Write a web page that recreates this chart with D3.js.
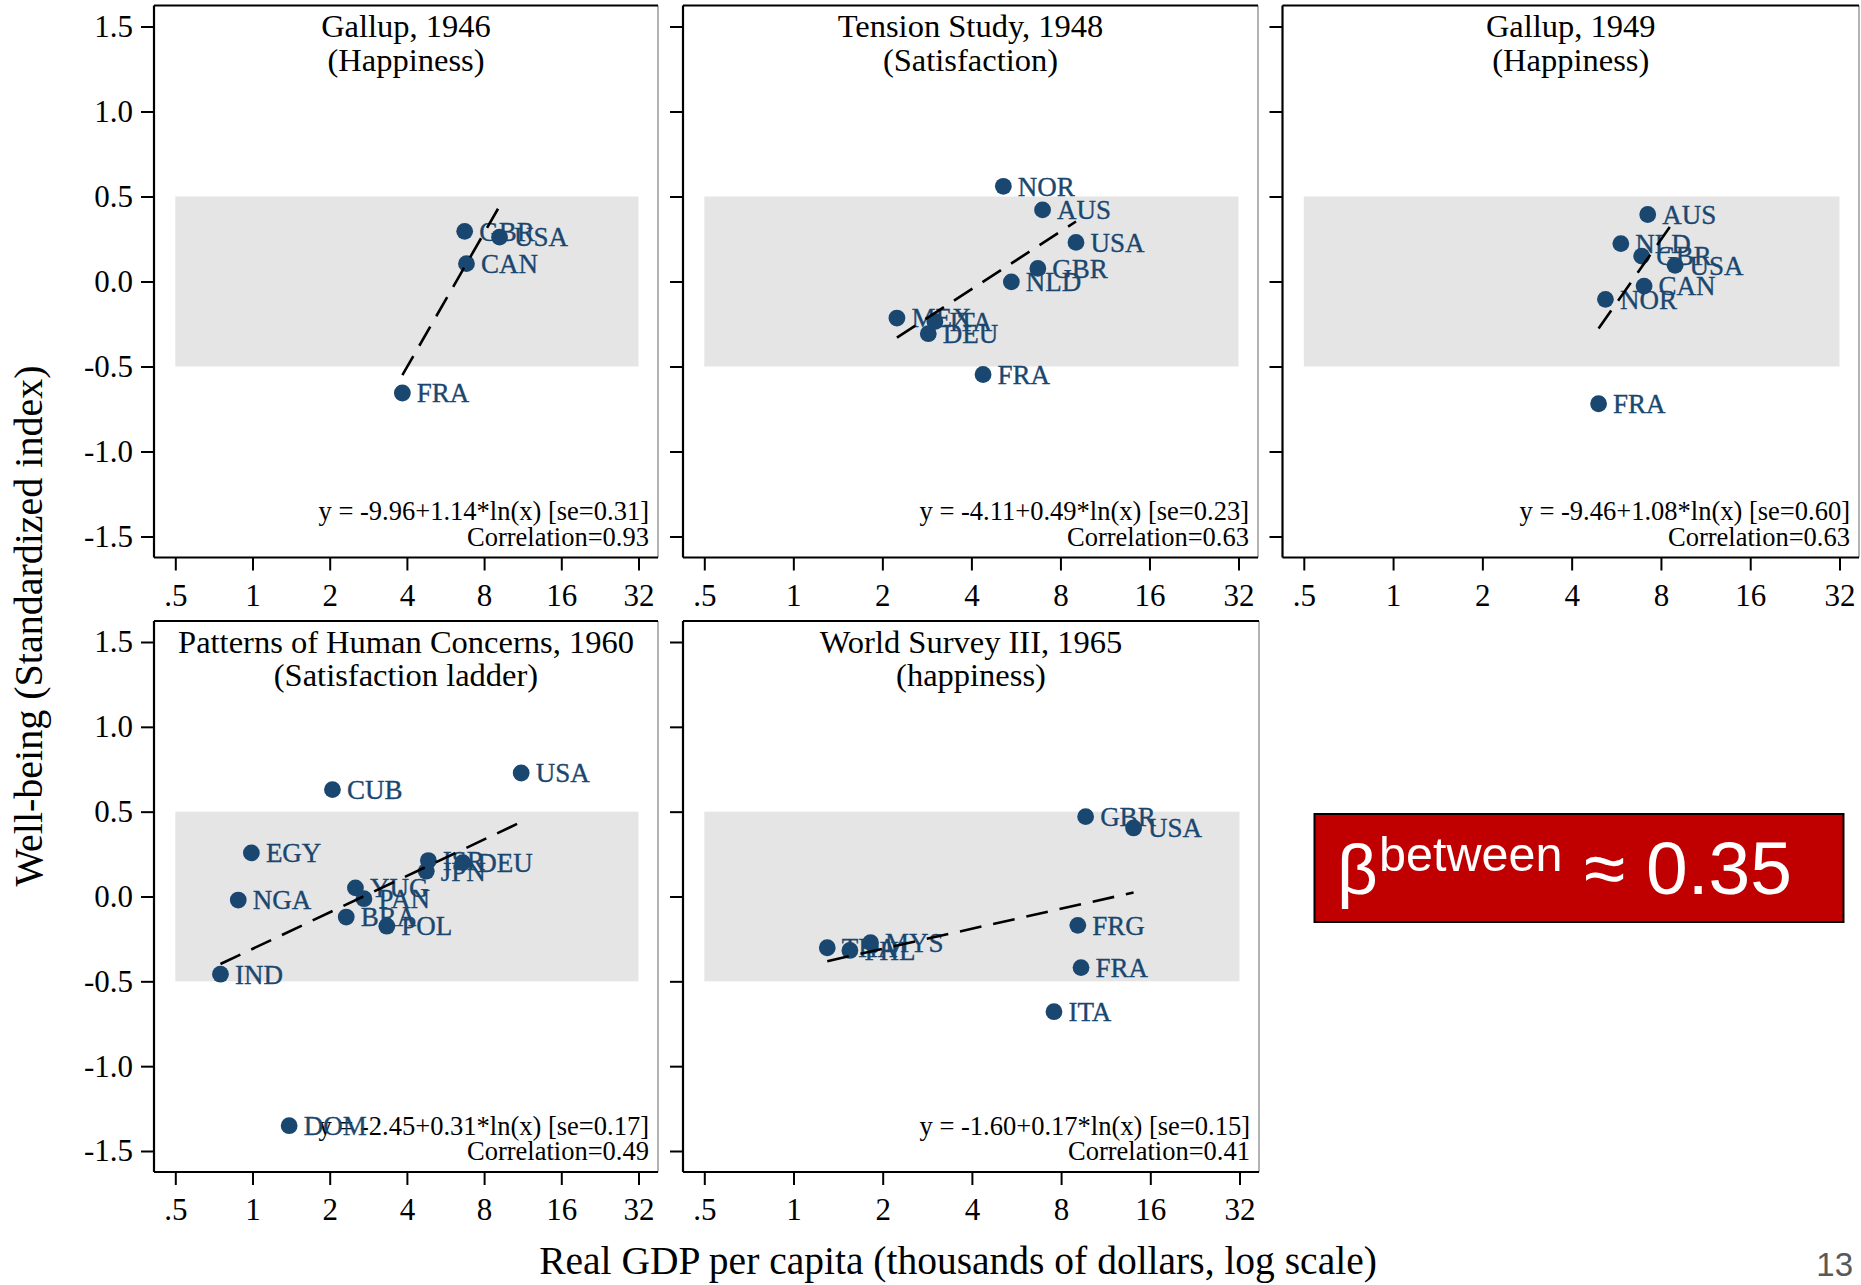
<!DOCTYPE html>
<html>
<head>
<meta charset="utf-8">
<script src="https://cdn.jsdelivr.net/npm/d3@7"></script>
<style>
  body { margin: 0; background: #fff; }
  svg { display: block; }
  text { font-family: "Liberation Serif", "Times New Roman", serif; }
</style>
</head>
<body>
<svg id="chart" width="1861" height="1285"></svg>
<script>
const X_TICKS = [0.5, 1, 2, 4, 8, 16, 32];
const X_TICK_LABELS = ['.5', '1', '2', '4', '8', '16', '32'];
const Y_TICKS = [1.5, 1.0, 0.5, 0.0, -0.5, -1.0, -1.5];
const Y_TICK_LABELS = ['1.5', '1.0', '0.5', '0.0', '-0.5', '-1.0', '-1.5'];

const TITLES = ['Gallup, 1946', 'Tension Study, 1948', 'Gallup, 1949',
    'Patterns of Human Concerns, 1960', 'World Survey III, 1965'];
const SUBTITLES = ['(Happiness)', '(Satisfaction)', '(Happiness)',
    '(Satisfaction ladder)', '(happiness)'];

// [country, real GDP per capita (thousands), well-being index]
const gallup1946 = [
    ['FRA', 3.84, -0.656], ['GBR', 6.72, 0.295], ['CAN', 6.83, 0.105], ['USA', 9.19, 0.261]
];
const tension1948 = [
    ['MEX', 2.24, -0.215], ['DEU', 2.86, -0.307], ['ITA', 3.01, -0.235], ['FRA', 4.38, -0.547],
    ['NOR', 5.13, 0.560], ['NLD', 5.46, -0.002], ['GBR', 6.71, 0.077], ['AUS', 6.96, 0.421],
    ['USA', 9.03, 0.230]
];
const gallup1949 = [
    ['FRA', 4.93, -0.719], ['NOR', 5.20, -0.105], ['NLD', 5.86, 0.223], ['GBR', 6.89, 0.149],
    ['CAN', 7.02, -0.027], ['AUS', 7.22, 0.394], ['USA', 8.93, 0.095]
];
const humanConcerns1960 = [
    ['IND', 0.75, -0.458], ['NGA', 0.88, -0.021], ['EGY', 0.99, 0.257], ['DOM', 1.39, -1.351],
    ['CUB', 2.05, 0.630], ['BRA', 2.32, -0.121], ['YUG', 2.52, 0.051], ['PAN', 2.72, -0.013],
    ['POL', 3.34, -0.175], ['ISR', 4.85, 0.212], ['JPN', 4.76, 0.149], ['DEU', 6.60, 0.200],
    ['USA', 11.16, 0.728]
];
const worldSurvey1965 = [
    ['THA', 1.30, -0.302], ['PHL', 1.55, -0.318], ['MYS', 1.82, -0.272], ['ITA', 7.57, -0.679],
    ['FRG', 9.11, -0.170], ['FRA', 9.34, -0.419], ['GBR', 9.68, 0.471], ['USA', 14.05, 0.404]
];
const PANEL_DATA = [gallup1946, tension1948, gallup1949, humanConcerns1960, worldSurvey1965];

const INTERCEPTS = [-9.96, -4.11, -9.46, -2.45, -1.60];
const SLOPES = [1.14, 0.49, 1.08, 0.31, 0.17];
const STD_ERRORS = [0.31, 0.23, 0.60, 0.17, 0.15];
const CORRELATIONS = [0.93, 0.63, 0.63, 0.49, 0.41];

const BETWEEN_VALUE = '0.35';
const PAGE_NUMBER = '13';

const NAVY = '#1a476f';
const BAND = '#e5e5e5';

// frame boxes of the five panels
const FRAMES = [
    { left: 154, right: 658, top: 5.5, bottom: 557.5, yLabels: true },
    { left: 683, right: 1258, top: 5.5, bottom: 557.5, yLabels: false },
    { left: 1282.5, right: 1859, top: 5.5, bottom: 557.5, yLabels: false },
    { left: 154, right: 658, top: 621, bottom: 1172, yLabels: true },
    { left: 683, right: 1259, top: 621, bottom: 1172, yLabels: false }
];

const svg = d3.select('#chart');

FRAMES.forEach((f, i) => drawPanel(f, i));

function drawPanel(f, i) {
    const data = PANEL_DATA[i];
    const x = d3.scaleLog().base(2).domain([0.5, 32]).range([f.left + 21.3, f.right - 19.5]);
    const y = d3.scaleLinear().domain([-1.5, 1.5]).range([f.bottom - 21, f.top + 21]);
    const g = svg.append('g');

    // grey band between -0.5 and 0.5
    g.append('rect')
        .attr('x', x(0.5))
        .attr('y', y(0.5))
        .attr('width', x(32) - x(0.5))
        .attr('height', y(-0.5) - y(0.5))
        .attr('fill', BAND);

    // frame
    g.append('line').attr('x1', f.right).attr('x2', f.right).attr('y1', f.top).attr('y2', f.bottom)
        .attr('stroke', '#8a8a8a').attr('stroke-width', 1.3);
    g.append('line').attr('x1', f.left).attr('x2', f.right).attr('y1', f.top).attr('y2', f.top)
        .attr('stroke', '#000').attr('stroke-width', 2);
    g.append('line').attr('x1', f.left).attr('x2', f.left).attr('y1', f.top).attr('y2', f.bottom)
        .attr('stroke', '#000').attr('stroke-width', 2.2);
    g.append('line').attr('x1', f.left).attr('x2', f.right).attr('y1', f.bottom).attr('y2', f.bottom)
        .attr('stroke', '#000').attr('stroke-width', 2.2);

    // axes
    const xAxis = d3.axisBottom(x)
        .tickValues(X_TICKS)
        .tickFormat((d, k) => X_TICK_LABELS[k])
        .tickSize(13)
        .tickPadding(13)
        .tickSizeOuter(0);
    const gx = g.append('g').attr('transform', `translate(0,${f.bottom})`).call(xAxis);

    const yAxis = d3.axisLeft(y)
        .tickValues(Y_TICKS)
        .tickFormat((d, k) => f.yLabels ? Y_TICK_LABELS[k] : '')
        .tickSize(13)
        .tickPadding(8)
        .tickSizeOuter(0);
    const gy = g.append('g').attr('transform', `translate(${f.left},0)`).call(yAxis);

    [gx, gy].forEach(a => {
        a.select('.domain').remove();
        a.selectAll('line').attr('stroke', '#000').attr('stroke-width', 2);
        a.selectAll('text')
            .attr('fill', '#000')
            .style('font-family', '"Liberation Serif", "Times New Roman", serif')
            .style('font-size', '31px');
    });

    // titles
    const cx = (f.left + f.right) / 2;
    g.append('text').attr('x', cx).attr('y', f.top + 31.5).attr('text-anchor', 'middle')
        .style('font-size', '32.5px').text(TITLES[i]);
    g.append('text').attr('x', cx).attr('y', f.top + 65).attr('text-anchor', 'middle')
        .style('font-size', '32.5px').text(SUBTITLES[i]);

    // equation and correlation
    const a = INTERCEPTS[i];
    const b = SLOPES[i];
    g.append('text').attr('x', f.right - 9).attr('y', f.bottom - 37.5).attr('text-anchor', 'end')
        .style('font-size', '26.5px')
        .text(`y = ${a.toFixed(2)}+${b.toFixed(2)}*ln(x) [se=${STD_ERRORS[i].toFixed(2)}]`);
    g.append('text').attr('x', f.right - 9).attr('y', f.bottom - 12).attr('text-anchor', 'end')
        .style('font-size', '26.5px')
        .text(`Correlation=${CORRELATIONS[i].toFixed(2)}`);

    // points with labels
    const pts = g.selectAll('g.pt').data(data).enter().append('g').attr('class', 'pt');
    pts.append('circle')
        .attr('cx', d => x(d[1]))
        .attr('cy', d => y(d[2]))
        .attr('r', 8.4)
        .attr('fill', NAVY);
    pts.append('text')
        .attr('x', d => x(d[1]) + 14.5)
        .attr('y', d => y(d[2]) + 9.3)
        .attr('fill', NAVY)
        .attr('stroke', NAVY)
        .attr('stroke-width', 0.35)
        .style('font-size', '27px')
        .text(d => d[0]);

    // fitted line y = a + b ln(1000 x) over the data range
    const ext = d3.extent(data, d => d[1]);
    const line = d3.line().x(d => x(d)).y(d => y(a + b * Math.log(1000 * d)));
    g.append('path')
        .attr('d', line(ext))
        .attr('fill', 'none')
        .attr('stroke', '#000')
        .attr('stroke-width', 2.6)
        .attr('stroke-dasharray', '22,12');
}

// axis titles
svg.append('text')
    .attr('transform', 'translate(41.5,626) rotate(-90)')
    .attr('text-anchor', 'middle')
    .style('font-size', '40px')
    .text('Well-being (Standardized index)');
svg.append('text')
    .attr('x', 958)
    .attr('y', 1274)
    .attr('text-anchor', 'middle')
    .style('font-size', '39.5px')
    .text('Real GDP per capita (thousands of dollars, log scale)');

// beta between box
const box = svg.append('g');
box.append('rect')
    .attr('x', 1314.5).attr('y', 814)
    .attr('width', 529).attr('height', 108)
    .attr('fill', '#c00000')
    .attr('stroke', '#000')
    .attr('stroke-width', 2);
const sans = '"Liberation Sans", Arial, sans-serif';
box.append('text').attr('x', 1337).attr('y', 894).attr('fill', '#fff')
    .style('font-family', sans).style('font-size', '71px').text('β');
box.append('text').attr('x', 1379).attr('y', 871).attr('fill', '#fff')
    .style('font-family', sans).style('font-size', '48.5px').text('between');
box.append('text').attr('x', 1584).attr('y', 894).attr('fill', '#fff')
    .style('font-family', sans).style('font-size', '75px').text(`≈ ${BETWEEN_VALUE}`);

svg.append('text')
    .attr('x', 1853).attr('y', 1276)
    .attr('text-anchor', 'end')
    .attr('fill', '#595959')
    .style('font-family', sans)
    .style('font-size', '33px')
    .text(PAGE_NUMBER);
</script>
</body>
</html>
